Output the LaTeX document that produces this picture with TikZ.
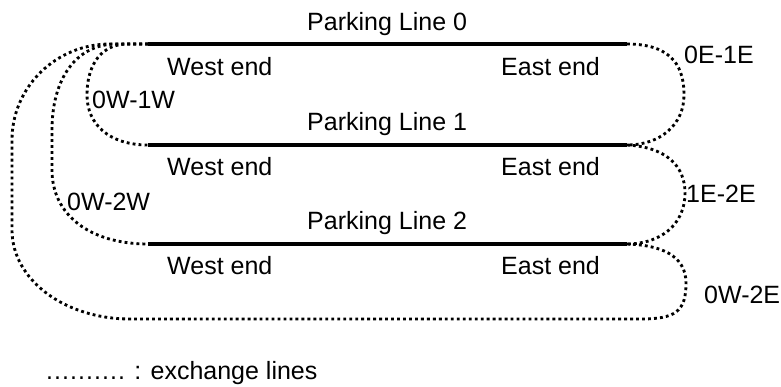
\documentclass[tikz,border=0pt]{standalone}
\usepackage{fontspec}
\setmainfont{Liberation Sans}
\begin{document}
\begin{tikzpicture}[x=0.0351459cm,y=-0.0351459cm,
    parking/.style={line width=0.11cm},
    exchange/.style={line width=0.1cm,dash pattern=on 0.1cm off 0.11cm},
    lbl/.style={inner sep=0pt,anchor=base west,font=\fontsize{25}{29}\selectfont}]
                    \useasboundingbox (0,0) rectangle (781,386);

                    % Ends of the parking lines
                    \coordinate (W0) at (148,44);  \coordinate (E0) at (627,44);
                    \coordinate (W1) at (148,145); \coordinate (E1) at (627,145);
                    \coordinate (W2) at (148,244); \coordinate (E2) at (627,244);

                    % Exchange line 0E-1E
                    \draw [exchange] (E0) .. controls (675,44) and (684,70) .. (684,95)
                                          .. controls (684,125) and (660,145) .. (E1);%

                    % Exchange line 1E-2E
                    \draw [exchange] (E1) .. controls (665,147) and (685,165) .. (685,193)
                                          .. controls (685,225) and (660,244) .. (E2);%

                    % Exchange line 0W-2E
                    \draw [exchange] (E2) .. controls (660,245) and (686,255) .. (686,283)
                                          .. controls (686,312) and (675,319) .. (640,319) -- (130,319)
                                          .. controls (65,319) and (12,280) .. (12,230) -- (12,140)
                                          .. controls (12,87) and (56,44) .. (110,44) -- (W0);%

                    % Exchange line 0W-2W
                    \draw [exchange] (W0) -- (115,44) .. controls (75,45) and (52,80) .. (52,130) -- (52,170)
                                          .. controls (52,215) and (90,244) .. (W2);%

                    % Exchange line 0W-1W
                    \draw [exchange] (W0) -- (125,44) .. controls (97,46) and (87,70) .. (87,95)
                                          .. controls (87,125) and (110,145) .. (W1);%

                    % Parking lines
                    \draw [parking] (W0) -- (E0);%
                    \draw [parking] (W1) -- (E1);%
                    \draw [parking] (W2) -- (E2);%

                    % Labels of parking line 0
                    \node [lbl] (pl0) at (307,30) {Parking Line 0};%
                    \node [lbl] (we0) at (167,75) {West end};%
                    \node [lbl] (ee0) at (501,75) {East end};%

                    % Labels of parking line 1
                    \node [lbl] (pl1) at (307,130) {Parking Line 1};%
                    \node [lbl] (we1) at (167,175) {West end};%
                    \node [lbl] (ee1) at (501,175) {East end};%

                    % Labels of parking line 2
                    \node [lbl] (pl2) at (307,229) {Parking Line 2};%
                    \node [lbl] (we2) at (167,274) {West end};%
                    \node [lbl] (ee2) at (501,274) {East end};%

                    % Labels of exchange lines
                    \node [lbl] (x0e1e) at (684,63) {0E-1E};%
                    \node [lbl] (x1e2e) at (686,202) {1E-2E};%
                    \node [lbl] (x0w2e) at (704,303) {0W-2E};%
                    \node [lbl] (x0w1w) at (92,108) {0W-1W};%
                    \node [lbl] (x0w2w) at (67,210) {0W-2W};%

                    % Legend
                    \node [lbl] (legend) at (46,379) {{\addfontfeature{LetterSpace=4.2}..........} : exchange lines};%
\end{tikzpicture}
\end{document}
